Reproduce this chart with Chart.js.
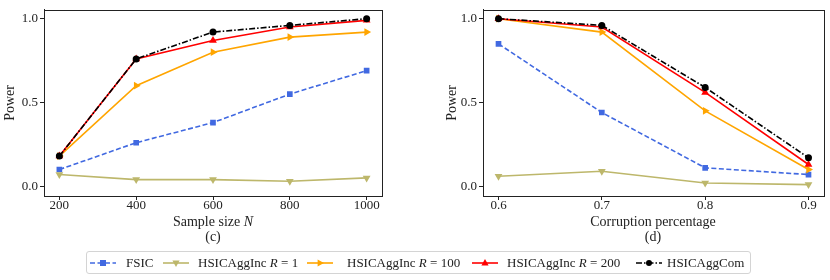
<!DOCTYPE html>
<html>
<head>
<meta charset="utf-8">
<script src="https://cdn.jsdelivr.net/npm/chart.js@4.4.1/dist/chart.umd.min.js"></script>
<style>
  body { margin: 0; background: #fff; font-family: 'Liberation Serif', serif; color: #222; }
  #wrap { position: relative; width: 830px; height: 280px; }
  canvas.cv { position: absolute; top: 0; }
  .lab { position: absolute; font-size: 14px; white-space: nowrap; transform: translateX(-50%); }
  #legend { position: absolute; left: 86px; top: 251px; width: 665px; height: 23px; border: 1px solid #d4d4d4;
            border-radius: 3px; box-sizing: border-box; font-size: 13px; }
  #legend canvas, #legend span { position: absolute; white-space: nowrap; }
</style>
</head>
<body>
<div id="wrap">
  <canvas id="chartC" class="cv" style="left:0" width="415" height="216"></canvas>
  <canvas id="chartD" class="cv" style="left:415px" width="415" height="216"></canvas>
  <div class="lab" style="left:213px;top:214px">Sample size <i>N</i></div>
  <div class="lab" style="left:213px;top:229px">(c)</div>
  <div class="lab" style="left:653px;top:214px">Corruption percentage</div>
  <div class="lab" style="left:653px;top:229px">(d)</div>
  <div id="legend"></div>
</div>
<script>
// (c) power vs sample size
const sampleSizes = [200, 400, 600, 800, 1000];
const fsicC  = [0.10, 0.26, 0.38, 0.55, 0.69];
const inc1C  = [0.07, 0.04, 0.04, 0.03, 0.05];
const inc100C = [0.18, 0.60, 0.80, 0.89, 0.92];
const inc200C = [0.18, 0.76, 0.87, 0.95, 0.99];
const comC   = [0.18, 0.76, 0.92, 0.96, 1.00];

// (d) power vs corruption
const corruption = [0.6, 0.7, 0.8, 0.9];
const fsicD  = [0.85, 0.44, 0.11, 0.07];
const inc1D  = [0.06, 0.09, 0.02, 0.01];
const inc100D = [1.00, 0.92, 0.45, 0.10];
const inc200D = [1.00, 0.95, 0.56, 0.13];
const comD   = [1.00, 0.96, 0.59, 0.17];

const yTicks = [0, 0.5, 1.0];

const styles = [
  { label: 'FSIC', html: 'FSIC', color: '#4169e1', dash: [5, 2.5], point: 'rect', rot: 0, r: 4, order: 5, lx: 90, tx: 126 },
  { label: 'HSICAggInc R = 1', html: 'HSICAggInc <i>R</i> = 1', color: '#bdb76b', dash: [], point: 'triangle', rot: 180, r: 4.5, order: 4, lx: 163, tx: 198 },
  { label: 'HSICAggInc R = 100', html: 'HSICAggInc <i>R</i> = 100', color: '#ffa500', dash: [], point: 'triangle', rot: 90, r: 4.5, order: 3, lx: 307, tx: 347 },
  { label: 'HSICAggInc R = 200', html: 'HSICAggInc <i>R</i> = 200', color: '#ff0000', dash: [], point: 'triangle', rot: 0, r: 4.5, order: 2, lx: 472, tx: 507 },
  { label: 'HSICAggCom', html: 'HSICAggCom', color: '#000000', dash: [6, 2, 1.5, 2], point: 'circle', rot: 0, r: 3.5, order: 1, lx: 636, tx: 667 }
];

Chart.defaults.font.family = "'Liberation Serif', serif";
Chart.defaults.color = '#222';

const frame = {
  id: 'frame',
  afterDraw(chart) {
    const a = chart.chartArea, c = chart.ctx;
    c.save();
    c.strokeStyle = '#222';
    c.lineWidth = 1;
    c.strokeRect(Math.round(a.left) + 0.5, Math.round(a.top) + 0.5, Math.round(a.right - a.left), Math.round(a.bottom - a.top));
    c.restore();
  }
};

function makeChart(id, xs, series, xmin, xmax, xTickFmt, pad, yWidth) {
  new Chart(document.getElementById(id), {
    type: 'line',
    data: {
      datasets: series.map((vals, i) => ({
        label: styles[i].label,
        data: xs.map((x, j) => ({ x: x, y: vals[j] })),
        borderColor: styles[i].color,
        backgroundColor: styles[i].color,
        borderWidth: 1.6,
        borderDash: styles[i].dash,
        pointStyle: styles[i].point,
        pointRotation: styles[i].rot,
        pointRadius: styles[i].r,
        pointBorderWidth: 0,
        order: styles[i].order,
        tension: 0
      }))
    },
    options: {
      responsive: false,
      animation: false,
      layout: { padding: pad },
      plugins: { legend: { display: false }, tooltip: { enabled: false } },
      scales: {
        x: {
          type: 'linear', min: xmin, max: xmax,
          afterBuildTicks: ax => { ax.ticks = xs.map(v => ({ value: v })); },
          afterFit: ax => { ax.height = 20; },
          ticks: { font: { size: 13 }, padding: -2, maxRotation: 0, callback: xTickFmt },
          grid: { drawOnChartArea: false, tickLength: 4, color: '#222' },
          border: { color: '#222' }
        },
        y: {
          min: -0.058, max: 1.053,
          afterBuildTicks: ax => { ax.ticks = yTicks.map(v => ({ value: v })); },
          afterFit: ax => { ax.width = yWidth; },
          ticks: { font: { size: 13 }, padding: 2, callback: v => v.toFixed(1) },
          grid: { drawOnChartArea: false, tickLength: 4, color: '#222' },
          border: { color: '#222' },
          title: { display: true, text: 'Power', font: { size: 14 }, padding: { top: 2, bottom: 0 } }
        }
      }
    },
    plugins: [frame]
  });
}

makeChart('chartC', sampleSizes, [fsicC, inc1C, inc100C, inc200C, comC], 160, 1040,
  v => String(v), { left: 0, right: 33, top: 6, bottom: 0 }, 44);
makeChart('chartD', corruption, [fsicD, inc1D, inc100D, inc200D, comD], 0.585, 0.915,
  v => v.toFixed(1), { left: 27, right: 6, top: 6, bottom: 0 }, 41);

// legend
const legend = document.getElementById('legend');
styles.forEach(s => {
  const cv = document.createElement('canvas');
  cv.width = 26; cv.height = 12;
  cv.style.left = (s.lx - 87) + 'px';
  cv.style.top = '5px';
  const c = cv.getContext('2d');
  c.strokeStyle = s.color; c.fillStyle = s.color; c.lineWidth = 1.6;
  c.setLineDash(s.dash);
  c.beginPath(); c.moveTo(0, 6); c.lineTo(26, 6); c.stroke();
  c.setLineDash([]);
  c.save(); c.translate(13, 6); c.rotate(s.rot * Math.PI / 180);
  c.beginPath();
  if (s.point === 'rect') c.rect(-3, -3, 6, 6);
  else if (s.point === 'circle') c.arc(0, 0, 3, 0, Math.PI * 2);
  else { c.moveTo(0, -4); c.lineTo(3.6, 2.4); c.lineTo(-3.6, 2.4); c.closePath(); }
  c.fill(); c.restore();
  legend.appendChild(cv);
  const t = document.createElement('span');
  t.innerHTML = s.html;
  t.style.left = (s.tx - 87) + 'px';
  t.style.top = '3px';
  legend.appendChild(t);
});
</script>
</body>
</html>
